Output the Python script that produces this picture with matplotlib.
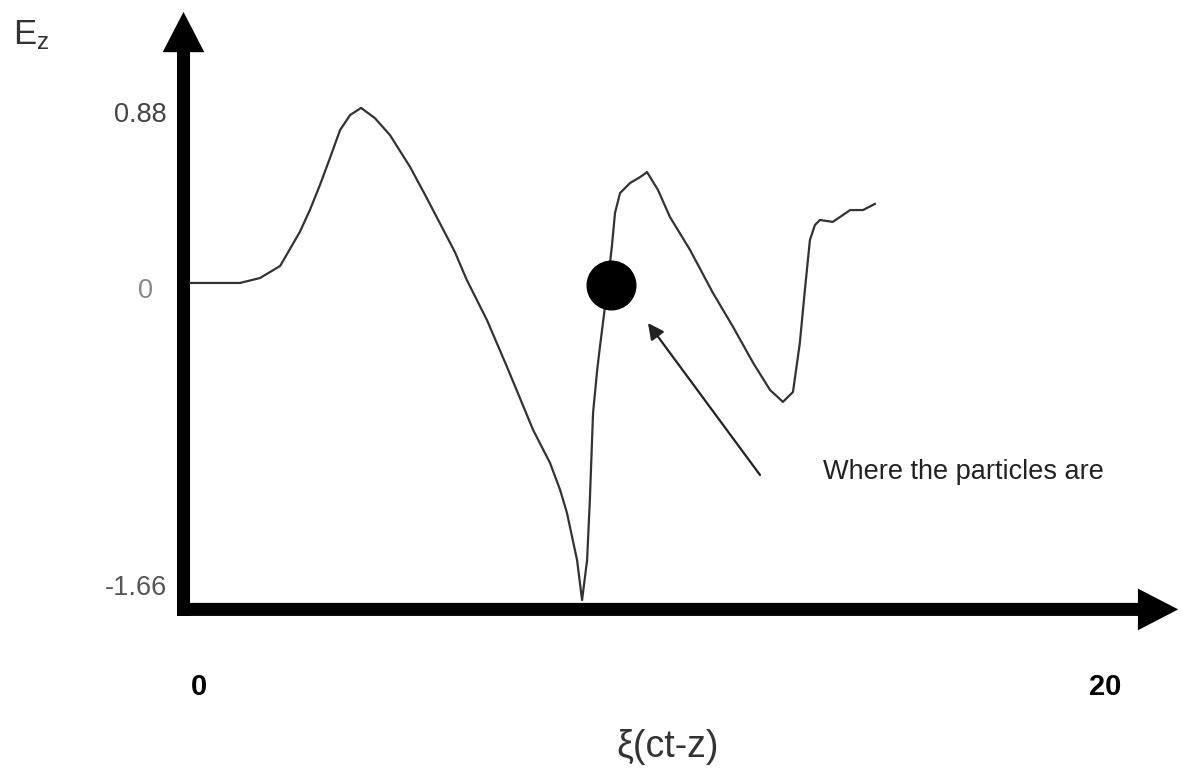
import matplotlib
matplotlib.use("Agg")
import matplotlib.pyplot as plt
from matplotlib.patches import FancyArrowPatch

plt.rcParams["font.family"] = ["Liberation Sans", "DejaVu Sans"]

# wakefield E_z along xi
xi = [0.00, 1.09, 1.53, 1.97, 2.40, 2.62, 2.84, 3.06, 3.28, 3.50, 3.74, 4.04, 4.37,
      4.81, 5.14, 5.46, 5.79, 6.05, 6.49, 6.93, 7.21, 7.50, 7.87, 8.09, 8.24, 8.46,
      8.57, 8.68, 8.74, 8.81, 8.90, 8.96, 9.07, 9.22, 9.29, 9.40, 9.62, 9.84, 9.99,
      10.23, 10.49, 10.93, 11.43, 11.87, 12.31, 12.68, 12.96, 13.18, 13.33, 13.44,
      13.55, 13.66, 13.77, 14.05, 14.43, 14.71, 14.97]
ez = [0.000, 0.000, 0.026, 0.089, 0.267, 0.382, 0.513, 0.655, 0.801, 0.880, 0.917,
      0.864, 0.775, 0.608, 0.461, 0.314, 0.162, 0.016, -0.194, -0.440, -0.602, -0.770,
      -0.943, -1.084, -1.205, -1.451, -1.661, -1.451, -1.137, -0.681, -0.456, -0.335,
      -0.126, 0.189, 0.367, 0.471, 0.524, 0.555, 0.581, 0.487, 0.346, 0.173, -0.052,
      -0.230, -0.419, -0.561, -0.623, -0.571, -0.314, -0.037, 0.225, 0.304, 0.330,
      0.320, 0.382, 0.382, 0.414]

particle_xi = [9.2]
particle_ez = [-0.01]

ytick_vals = [0.88, 0.0, -1.66]
ytick_text = ["0.88", "0", "-1.66"]
xtick_vals = [0, 20]
xtick_text = ["0", "20"]

fig = plt.figure(figsize=(11.83, 7.73), dpi=100)
ax = fig.add_axes([0, 0, 1, 1])
ax.set_xlim(-4.153, 21.705)
ax.set_ylim(-2.567, 1.4824)
ax.axis("off")

# axes drawn as thick arrows
arrow_style = "simple,head_length=29,head_width=30,tail_width=9.4"
ax.add_patch(FancyArrowPatch((-0.284, -1.71), (21.6, -1.71), arrowstyle=arrow_style,
                             mutation_scale=1, color="black", lw=0, shrinkA=0, shrinkB=0))
ax.add_patch(FancyArrowPatch((-0.142, -1.744), (-0.142, 1.42), arrowstyle=arrow_style,
                             mutation_scale=1, color="black", lw=0, shrinkA=0, shrinkB=0))

ax.plot(xi, ez, color="#333333", lw=1.6, zorder=3)
ax.plot(particle_xi, particle_ez, "o", color="black", markersize=35, zorder=4)

ax.annotate("", xy=(10.01, -0.21), xytext=(12.46, -1.006),
            arrowprops=dict(arrowstyle="-|>", color="#222222", lw=1.6,
                            mutation_scale=24, shrinkA=0, shrinkB=0))
ax.text(13.84, -0.99, "Where the particles are", fontsize=19.5, color="#222222",
        ha="left", va="center")

# y labels
ycolors = ["#444444", "#888888", "#555555"]
yoffs = [0.0, -0.04, 0.06]
for v, t, c, o in zip(ytick_vals, ytick_text, ycolors, yoffs):
    xpos = -0.81 if t == "0" else -0.5
    ax.text(xpos, v + o, t, fontsize=19.5, color=c, ha="right", va="center")

# x labels
for v, t in zip(xtick_vals, xtick_text):
    ax.text(v + 0.2 if v == 0 else v, -2.116, t, fontsize=21, fontweight="bold",
            color="black", ha="center", va="center")

ax.text(10.45, -2.43, "ξ(ct-z)", fontsize=27, color="#333333", ha="center", va="center")
ax.text(-3.87, 1.30, r"$\mathregular{E_z}$", fontsize=25, color="#333333",
        ha="left", va="center")

fig.savefig("out.png", dpi=100, facecolor="white")
